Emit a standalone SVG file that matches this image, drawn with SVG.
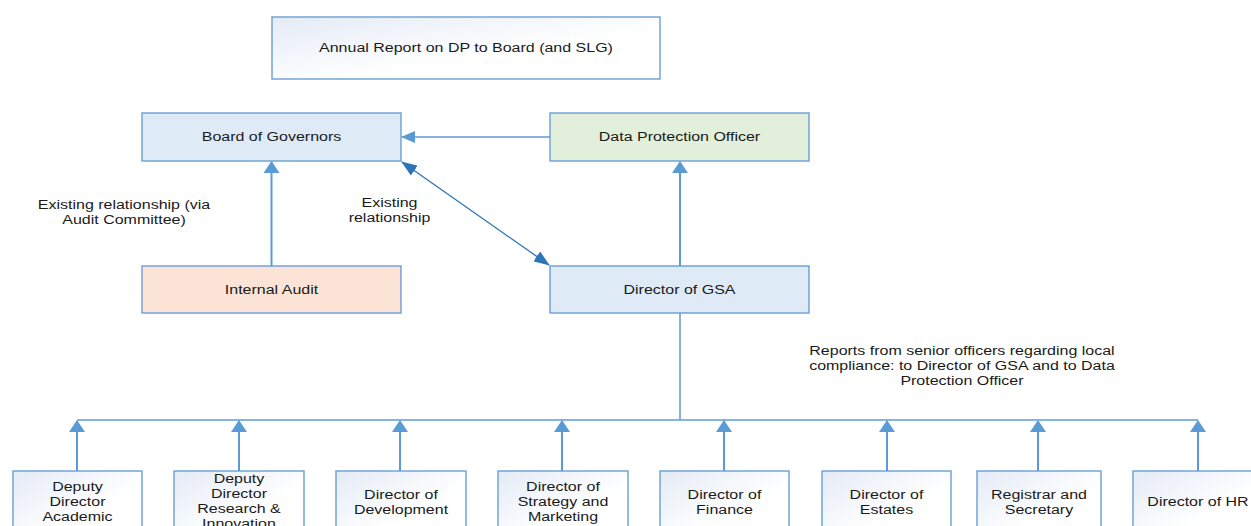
<svg xmlns="http://www.w3.org/2000/svg" width="1251" height="526" viewBox="0 0 1251 526">
<defs>
<linearGradient id="gw" x1="0" y1="0" x2="1" y2="1">
<stop offset="0" stop-color="#e4ebf6"/>
<stop offset="0.6" stop-color="#ffffff"/>
<stop offset="1" stop-color="#ffffff"/>
</linearGradient>
<marker id="ah" markerUnits="userSpaceOnUse" markerWidth="16" markerHeight="16" viewBox="0 0 12 16" refX="11" refY="8" orient="auto">
<path d="M0,0 L12,8 L0,16 Z" fill="#5b9bd5"/>
</marker>
<marker id="ahs" markerUnits="userSpaceOnUse" markerWidth="14" markerHeight="12" viewBox="0 0 14 12" refX="13" refY="6" orient="auto">
<path d="M0,0 L14,6 L0,12 Z" fill="#5b9bd5"/>
</marker>
<marker id="ad" markerUnits="userSpaceOnUse" markerWidth="16" markerHeight="12" viewBox="0 0 16 12" refX="15" refY="6" orient="auto-start-reverse">
<path d="M0,0 L16,6 L0,12 Z" fill="#2e75b6"/>
</marker>
</defs>
<style>
.box{stroke:#6a9fd4;stroke-width:1.4}
.w{fill:url(#gw)}
.blue{fill:#deeaf6}
.green{fill:#e2efda}
.peach{fill:#fbe4d5}
text{font-family:"Liberation Sans",Arial,sans-serif;font-size:12.5px;fill:#1a1a1a;text-anchor:middle}
.ln{stroke:#5b9bd5;fill:none}
</style>
<g id="annual-report"><rect class="box w" x="272" y="17" width="388" height="62"/><text transform="scale(1.28 1)" x="364.06" y="52">Annual Report on DP to Board (and SLG)</text></g>
<g id="board"><rect class="box blue" x="142" y="113" width="259" height="48"/><text transform="scale(1.28 1)" x="212.11" y="141.5">Board of Governors</text></g>
<g id="dpo"><rect class="box green" x="550" y="113" width="259" height="48"/><text transform="scale(1.28 1)" x="530.86" y="141.5">Data Protection Officer</text></g>
<g id="internal-audit"><rect class="box peach" x="142" y="266" width="259" height="47"/><text transform="scale(1.28 1)" x="212.11" y="294.5">Internal Audit</text></g>
<g id="gsa"><rect class="box blue" x="550" y="266" width="259" height="47"/><text transform="scale(1.28 1)" x="530.86" y="294.5">Director of GSA</text></g>
<g id="label-audit"><text transform="scale(1.28 1)" x="96.88" y="209.5">Existing relationship (via</text><text transform="scale(1.28 1)" x="96.88" y="224.5">Audit Committee)</text></g>
<g id="label-existing"><text transform="scale(1.28 1)" x="304.3" y="207">Existing</text><text transform="scale(1.28 1)" x="304.3" y="222">relationship</text></g>
<g id="label-reports"><text transform="scale(1.28 1)" x="751.56" y="355">Reports from senior officers regarding local</text><text transform="scale(1.28 1)" x="751.56" y="370">compliance: to Director of GSA and to Data</text><text transform="scale(1.28 1)" x="751.56" y="385">Protection Officer</text></g>
<g id="connectors">
<line class="ln" x1="550" y1="137" x2="402" y2="137" stroke-width="1.5" marker-end="url(#ahs)"/>
<line class="ln" x1="271.5" y1="266" x2="271.5" y2="162" stroke-width="2" marker-end="url(#ah)"/>
<line class="ln" x1="680" y1="266" x2="680" y2="162" stroke-width="2" marker-end="url(#ah)"/>
<line x1="402" y1="162" x2="549" y2="265" stroke="#2e75b6" stroke-width="1.3" marker-start="url(#ad)" marker-end="url(#ad)"/>
<line class="ln" x1="680" y1="313" x2="680" y2="420" stroke-width="1.5"/>
<line class="ln" x1="77" y1="420" x2="1198" y2="420" stroke-width="1.5"/>
<line class="ln" x1="77" y1="471" x2="77" y2="421" stroke-width="2" marker-end="url(#ah)"/>
<line class="ln" x1="239" y1="471" x2="239" y2="421" stroke-width="2" marker-end="url(#ah)"/>
<line class="ln" x1="400" y1="471" x2="400" y2="421" stroke-width="2" marker-end="url(#ah)"/>
<line class="ln" x1="562" y1="471" x2="562" y2="421" stroke-width="2" marker-end="url(#ah)"/>
<line class="ln" x1="724" y1="471" x2="724" y2="421" stroke-width="2" marker-end="url(#ah)"/>
<line class="ln" x1="887" y1="471" x2="887" y2="421" stroke-width="2" marker-end="url(#ah)"/>
<line class="ln" x1="1038" y1="471" x2="1038" y2="421" stroke-width="2" marker-end="url(#ah)"/>
<line class="ln" x1="1198" y1="471" x2="1198" y2="421" stroke-width="2" marker-end="url(#ah)"/>
</g>
<g id="dd-academic"><rect class="box w" x="13" y="471" width="129" height="70"/><text transform="scale(1.28 1)" x="60.55" y="491">Deputy</text><text transform="scale(1.28 1)" x="60.55" y="506">Director</text><text transform="scale(1.28 1)" x="60.55" y="521">Academic</text></g>
<g id="dd-research"><rect class="box w" x="174" y="471" width="130" height="70"/><text transform="scale(1.28 1)" x="186.72" y="483">Deputy</text><text transform="scale(1.28 1)" x="186.72" y="498">Director</text><text transform="scale(1.28 1)" x="186.72" y="513">Research &amp;</text><text transform="scale(1.28 1)" x="186.72" y="528">Innovation</text></g>
<g id="dir-development"><rect class="box w" x="336" y="471" width="130" height="70"/><text transform="scale(1.28 1)" x="313.28" y="499">Director of</text><text transform="scale(1.28 1)" x="313.28" y="514">Development</text></g>
<g id="dir-strategy"><rect class="box w" x="498" y="471" width="130" height="70"/><text transform="scale(1.28 1)" x="439.84" y="491">Director of</text><text transform="scale(1.28 1)" x="439.84" y="506">Strategy and</text><text transform="scale(1.28 1)" x="439.84" y="521">Marketing</text></g>
<g id="dir-finance"><rect class="box w" x="660" y="471" width="129" height="70"/><text transform="scale(1.28 1)" x="566.02" y="499">Director of</text><text transform="scale(1.28 1)" x="566.02" y="514">Finance</text></g>
<g id="dir-estates"><rect class="box w" x="822" y="471" width="129" height="70"/><text transform="scale(1.28 1)" x="692.58" y="499">Director of</text><text transform="scale(1.28 1)" x="692.58" y="514">Estates</text></g>
<g id="registrar"><rect class="box w" x="977" y="471" width="124" height="70"/><text transform="scale(1.28 1)" x="811.72" y="499">Registrar and</text><text transform="scale(1.28 1)" x="811.72" y="514">Secretary</text></g>
<g id="dir-hr"><rect class="box w" x="1133" y="471" width="130" height="70"/><text transform="scale(1.28 1)" x="935.94" y="506">Director of HR</text></g>
</svg>
